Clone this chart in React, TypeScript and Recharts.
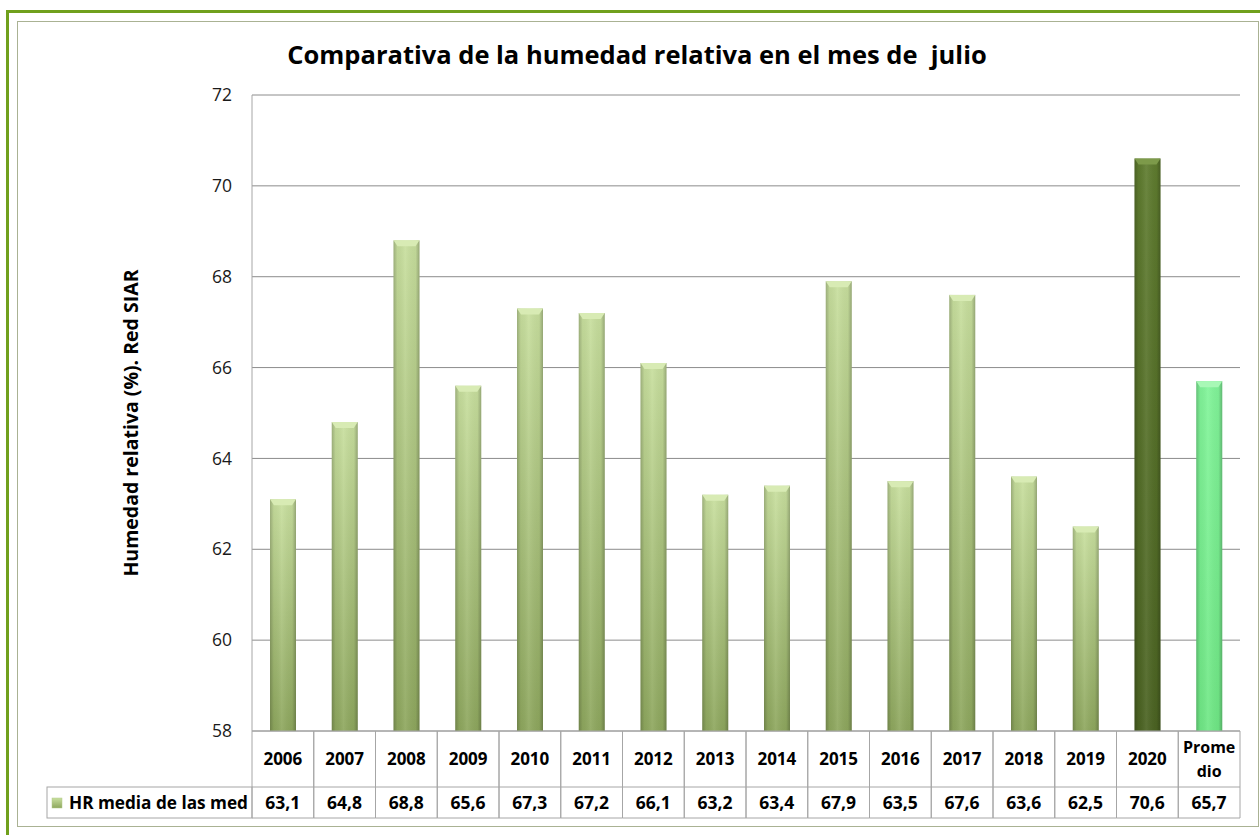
import React from 'react';
import { BarChart, Bar, XAxis, YAxis, CartesianGrid } from 'recharts';

const categories = ['2006','2007','2008','2009','2010','2011','2012','2013','2014','2015','2016','2017','2018','2019','2020','Promedio'];
const values = [63.1, 64.8, 68.8, 65.6, 67.3, 67.2, 66.1, 63.2, 63.4, 67.9, 63.5, 67.6, 63.6, 62.5, 70.6, 65.7];
const yTicks = [58, 60, 62, 64, 66, 68, 70, 72];
const seriesName = 'HR media de las med';
const titleText = 'Comparativa de la humedad relativa en el mes de  julio';
const yTitle = 'Humedad relativa (%). Red SIAR';

const data = categories.map((c, i) => ({ cat: c, value: values[i] }));

const W = 1260;
const H = 835;
const M = { top: 95, right: 20, bottom: 17, left: 192 };
const Y_AXIS_W = 60;
const X_AXIS_H = 87;
const PLOT_W = W - M.left - Y_AXIS_W - M.right;
const BAND = PLOT_W / categories.length;
const FONT = '"Open Sans", Lato, sans-serif';
const LINE = '#a6a6a6';

const fmt = (v: number) => v.toFixed(1).replace('.', ',');

const gradFor = (i: number) => (categories[i] === '2020' ? 'dark' : categories[i] === 'Promedio' ? 'avg' : 'norm');

const capColor: Record<string, string> = { norm: '#d8ebb4', dark: '#7d9a4a', avg: '#a8f8b6' };

const BarShape = (props: any) => {
  const { x, y, width, height, index } = props;
  if (height <= 0) return null;
  const g = gradFor(index);
  const cap = Math.min(6, height);
  return (
    <g>
      <rect x={x} y={y} width={width} height={height} fill={`url(#v-${g})`} />
      <rect x={x} y={y} width={width} height={height} fill="url(#h-edge)" />
      <polygon
        points={`${x},${y} ${x + width},${y} ${x + width - 4},${y + cap} ${x + 4},${y + cap}`}
        fill={capColor[g]}
      />
    </g>
  );
};

const TableTick = (props: any) => {
  const { x, y, index } = props;
  const left = x - BAND / 2;
  const right = x + BAND / 2;
  const rowTop = y;
  const rowMid = y + 56;
  const rowBot = y + 87;
  const cat = categories[index];
  const isAvg = cat === 'Promedio';
  const textStyle = { fontFamily: FONT, fontWeight: 700, fontSize: 17, fill: '#000' } as any;
  return (
    <g>
      <line x1={left} y1={rowTop} x2={left} y2={rowBot} stroke={LINE} />
      <line x1={right} y1={rowTop} x2={right} y2={rowBot} stroke={LINE} />
      <line x1={left} y1={rowMid} x2={right} y2={rowMid} stroke={LINE} />
      <line x1={left} y1={rowBot} x2={right} y2={rowBot} stroke={LINE} />
      {isAvg ? (
        <>
          <text x={x} y={rowTop + 22} textAnchor="middle" style={{ ...textStyle, fontSize: 16 }}>Prome</text>
          <text x={x} y={rowTop + 46} textAnchor="middle" style={{ ...textStyle, fontSize: 16 }}>dio</text>
        </>
      ) : (
        <text x={x} y={rowTop + 34} textAnchor="middle" style={textStyle}>{cat}</text>
      )}
      <text x={x} y={rowMid + 22} textAnchor="middle" style={{ ...textStyle, fontSize: 17.5 }}>{fmt(values[index])}</text>
      {index === 0 && (
        <g>
          <rect x={47} y={rowMid} width={left - 47} height={rowBot - rowMid} fill="none" stroke={LINE} />
          <rect x={52} y={rowMid + 11} width={10} height={10} fill="url(#v-norm)" stroke="#b5c98a" strokeWidth={0.5} />
          <text x={69} y={rowMid + 22} style={{ ...textStyle, fontSize: 17.2 }}>{seriesName}</text>
        </g>
      )}
    </g>
  );
};

export default function App() {
  return (
    <div style={{ position: 'absolute', left: 0, top: 0, width: W, height: H, background: '#fff', overflow: 'hidden' }}>
      <div style={{ position: 'absolute', left: 6, top: 10, width: W - 6, height: 3, background: '#70a01c' }} />
      <div style={{ position: 'absolute', left: 6, top: 10, width: 3, height: H - 10, background: '#70a01c' }} />
      <div style={{ position: 'absolute', left: 17, top: 21, width: 1240, height: 804, border: '1px solid #aab293', boxSizing: 'content-box' }} />
      <div style={{ position: 'absolute', left: 7, top: 36, width: W, textAlign: 'center', fontFamily: FONT, fontWeight: 700, fontSize: 25.5, lineHeight: '36px', color: '#000', whiteSpace: 'pre' }}>
        {titleText}
      </div>
      <div
        style={{
          position: 'absolute', left: 130, top: 423, transform: 'translate(-50%, -50%) rotate(-90deg)',
          fontFamily: FONT, fontWeight: 700, fontSize: 19.5, color: '#000', whiteSpace: 'nowrap',
        }}
      >
        {yTitle}
      </div>
      <div style={{ position: 'absolute', left: 0, top: 0 }}>
        <BarChart width={W} height={H} data={data} margin={M} barSize={26}>
          <defs>
            <linearGradient id="v-norm" x1="0" y1="0" x2="0" y2="1">
              <stop offset="0%" stopColor="#c8df9e" />
              <stop offset="100%" stopColor="#8ea75e" />
            </linearGradient>
            <linearGradient id="v-dark" x1="0" y1="0" x2="0" y2="1">
              <stop offset="0%" stopColor="#5f7c2f" />
              <stop offset="100%" stopColor="#4b6322" />
            </linearGradient>
            <linearGradient id="v-avg" x1="0" y1="0" x2="0" y2="1">
              <stop offset="0%" stopColor="#82f59a" />
              <stop offset="100%" stopColor="#70e886" />
            </linearGradient>
            <linearGradient id="h-edge" x1="0" y1="0" x2="1" y2="0">
              <stop offset="0%" stopColor="#000" stopOpacity={0.22} />
              <stop offset="15%" stopColor="#000" stopOpacity={0.04} />
              <stop offset="45%" stopColor="#fff" stopOpacity={0.08} />
              <stop offset="85%" stopColor="#000" stopOpacity={0.04} />
              <stop offset="100%" stopColor="#000" stopOpacity={0.25} />
            </linearGradient>
          </defs>
          <CartesianGrid horizontal vertical={false} stroke="#8c8c8c" />
          <XAxis
            dataKey="cat"
            height={X_AXIS_H}
            tickLine={false}
            tickSize={0}
            tickMargin={0}
            axisLine={{ stroke: LINE }}
            interval={0}
            tick={<TableTick />}
          />
          <YAxis
            width={Y_AXIS_W}
            domain={[58, 72]}
            ticks={yTicks}
            allowDataOverflow
            tickLine={false}
            tickSize={0}
            tickMargin={20}
            axisLine={{ stroke: LINE }}
            tick={{ fontFamily: FONT, fontSize: 17.5, fill: '#1a1a1a' }}
          />
          <Bar dataKey="value" isAnimationActive={false} shape={<BarShape />} />
        </BarChart>
      </div>
    </div>
  );
}
